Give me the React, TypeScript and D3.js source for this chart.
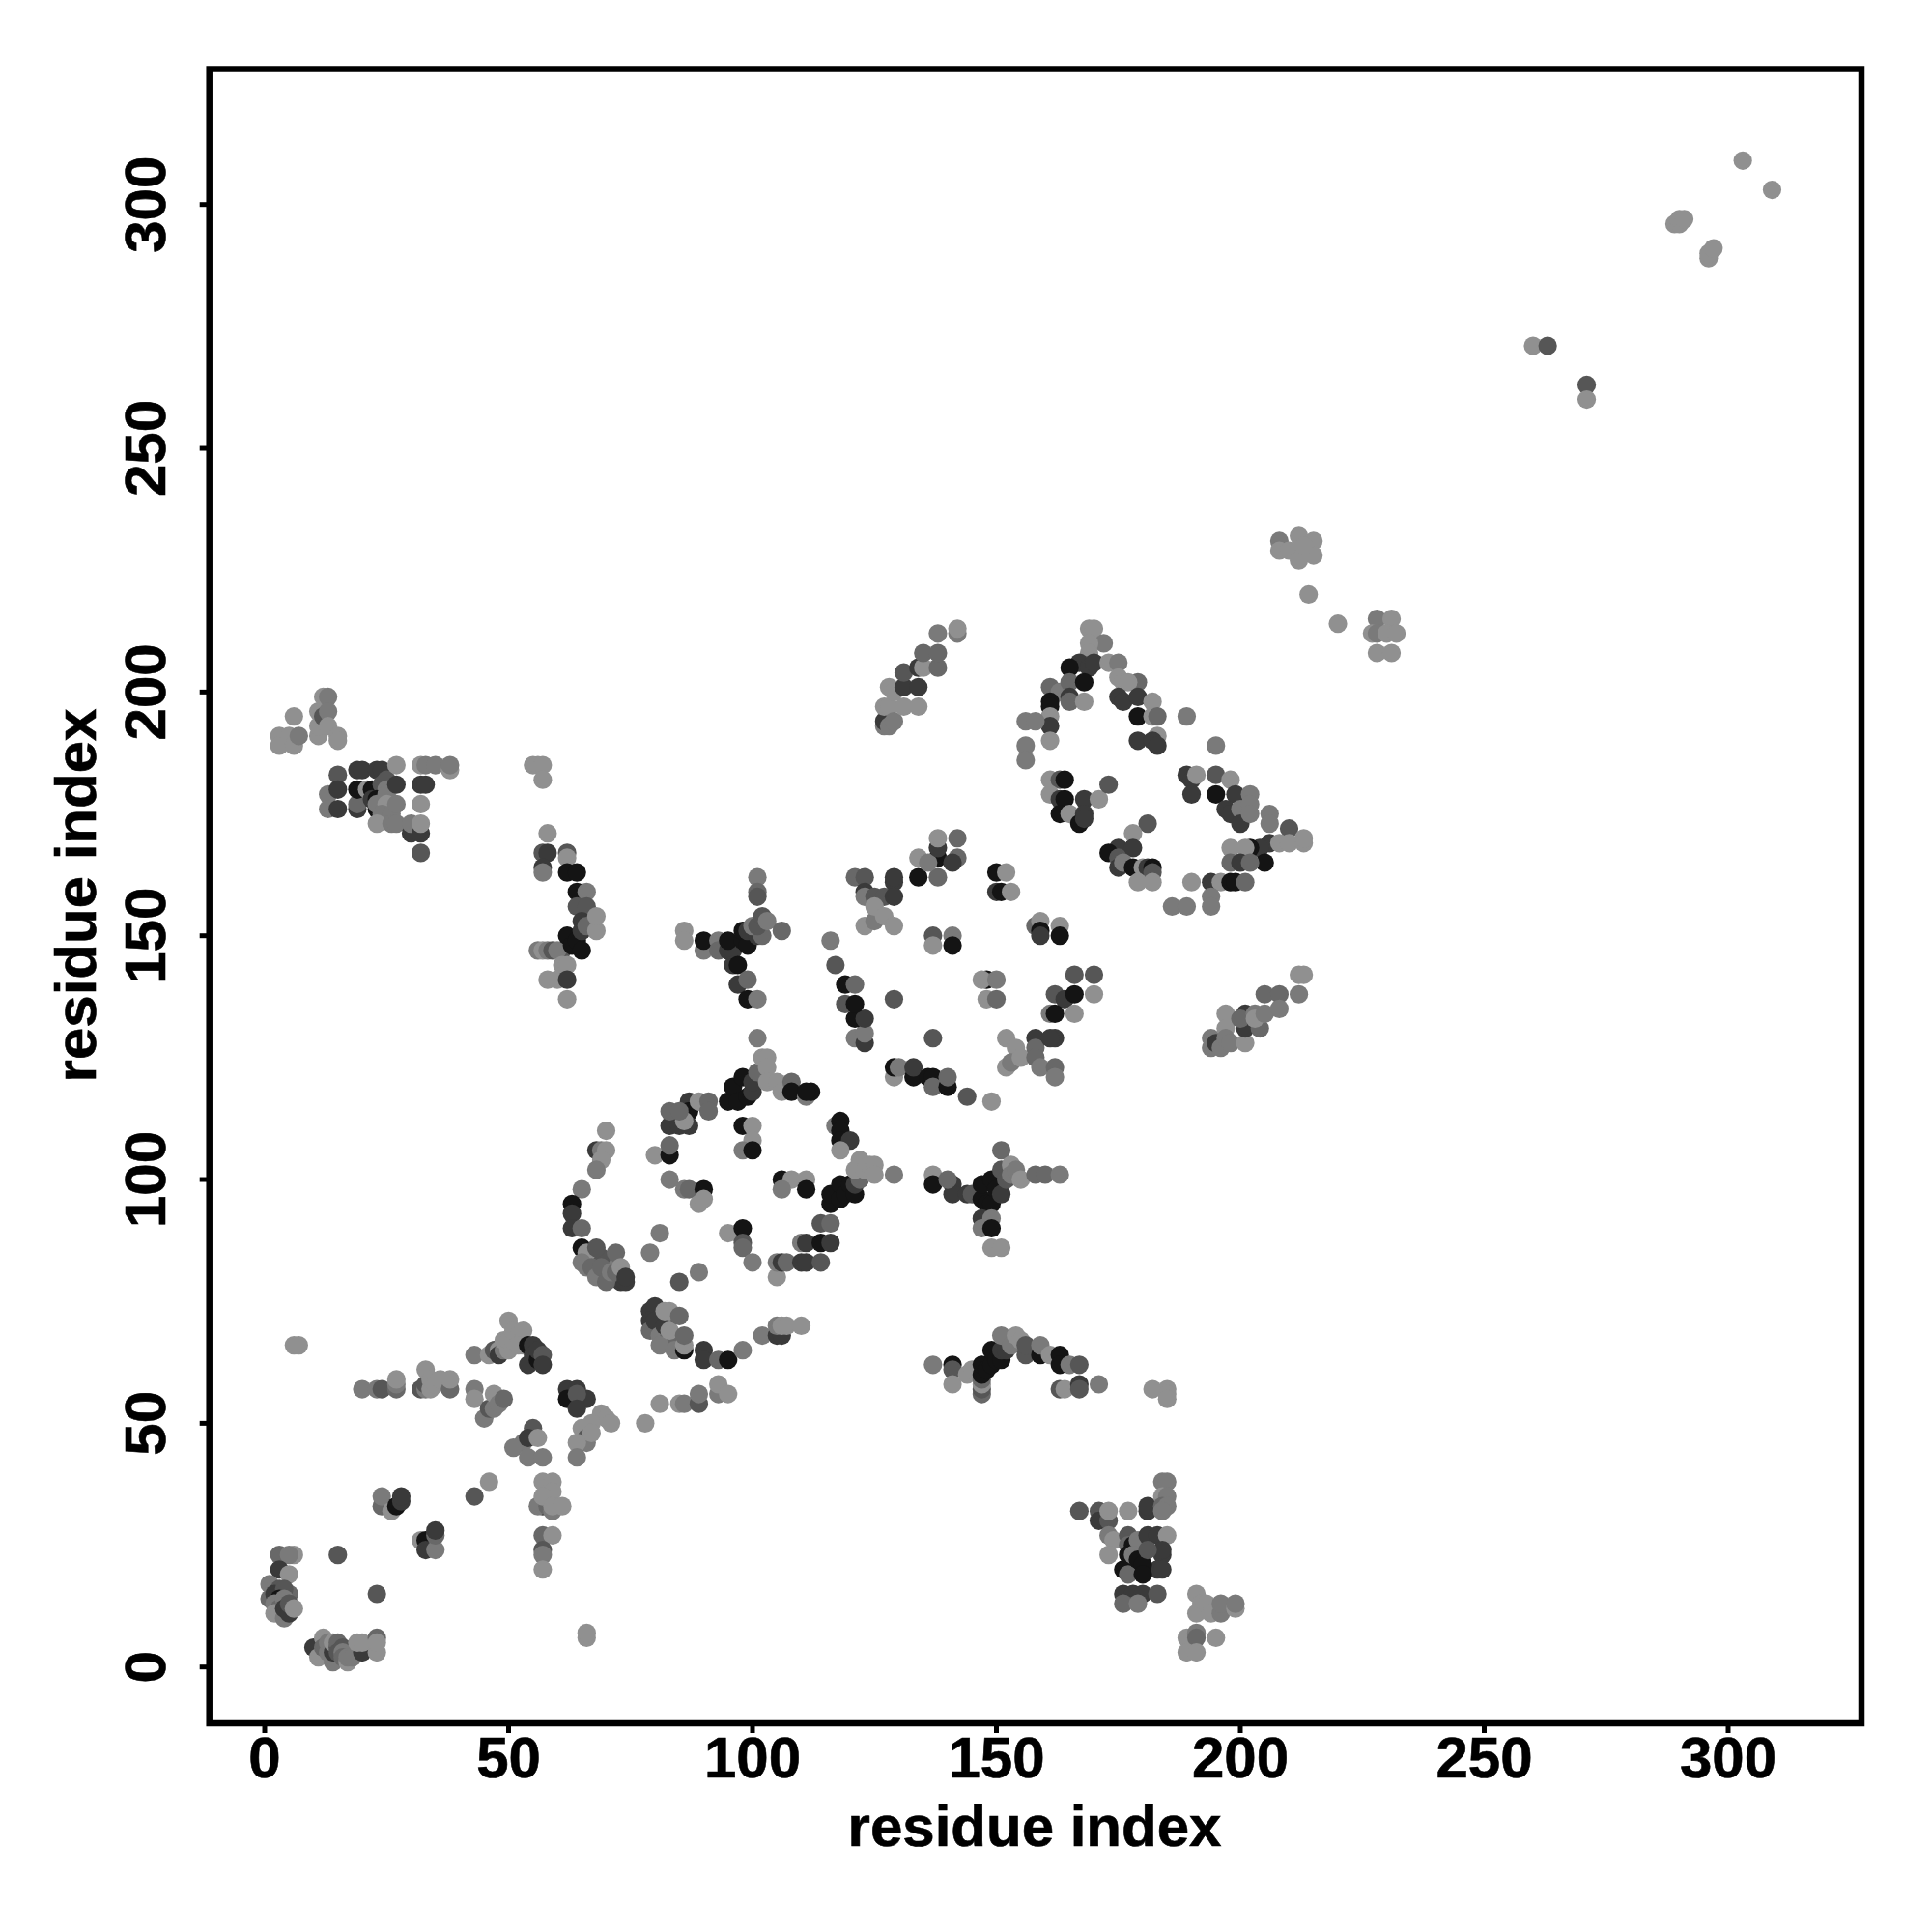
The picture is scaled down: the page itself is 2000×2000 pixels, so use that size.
import React from "react";
import * as d3 from "d3";

type P = [number, number, number];
const W = 144, L = 122, M = 104, D = 86, K = 58, B = 20;

const xTicks = [0, 50, 100, 150, 200, 250, 300];
const yTicks = [0, 50, 100, 150, 200, 250, 300];
const xLabel = "residue index";
const yLabel = "residue index";

const cornerA: P[] = [
  [3,23,M],[6,23,W],[5,23,L],[3,20,K],[5,19,W],[1,17,L],[1,14,M],[2,16,L],[3,16,D],[2,15,K],[5,15,M],[4,16,D],[3,14,B],[2,13,L],[3,12,M],[4,14,L],[2,11,W],[4,10,L],[4,12,K],[5,11,K],[5,13,D],[6,12,W],
  [15,23,D],[23,15,D],
  [11,4,L],[10,4,K],[12,6,W],[11,2,W],[12,4,M],[13,3,L],[13,5,L],[14,1,L],[14,3,K],[14,5,W],[15,4,D],[15,5,M],[15,3,D],[16,4,D],[16,3,L],[16,2,M],[17,1,W],[17,2,L],[18,2,L],[20,3,K],[19,5,W],[20,5,W],[23,3,W],[23,6,M],[23,5,W],
  [24,33,M],[24,35,L],[26,32,W],[27,33,B],[28,34,K],[28,35,K],
  [32,26,W],[33,26,B],[33,24,K],[35,24,L],[35,27,M],[35,28,K],
  [43,35,D],[46,38,W],[66,6,W],[66,7,W],[6,66,W],[7,66,W],
];
const rowB: P[] = [
  [20,57,L],[23,57,L],[24,57,D],[27,57,M],[27,58,L],[27,59,W],[32,57,D],[33,57,L],[33,58,D],[34,57,W],[33,61,W],[34,59,W],[35,58,W],[36,59,W],[38,57,M],[38,59,W],
  [43,64,L],[46,64,W],[47,65,D],[48,65,W],[48,64,K],[49,65,L],[49,67,W],[50,65,W],[50,67,W],[50,71,W],[51,67,W],[51,69,W],[52,68,W],[53,69,W],[53,66,W],[52,66,W],
  [54,66,B],[54,62,K],[55,66,K],[55,64,K],[56,63,B],[56,65,K],[57,64,D],[57,62,K],
  [43,57,L],[43,55,W],[45,51,L],[46,53,D],[47,53,L],[47,56,W],[48,54,L],[49,55,M],
  [55,49,D],[53,46,L],[51,45,L],[54,47,K],[56,47,W],[54,43,L],[57,43,L],
  [57,38,W],[59,38,W],[59,36,W],[57,33,K],[56,33,L],[58,33,M],[59,32,L],[57,35,W],[59,33,W],[61,33,W],
  [57,27,M],[59,27,W],[57,24,D],[57,23,L],[57,20,W],
  [62,57,K],[64,57,K],[62,55,B],[66,55,K],[64,56,D],[64,53,K],[69,52,W],[70,51,W],[71,50,W],[67,50,W],[65,49,W],[66,47,D],[66,46,L],[64,46,W],[64,43,L],[67,48,W],
];
const diagC: P[] = [
  [78,50,W],[81,54,W],[85,54,W],[86,54,L],[89,54,D],[89,56,L],[93,56,L],[93,58,W],[95,56,W],
  [79,73,K],[80,74,K],[79,71,K],[79,69,M],[80,71,K],[81,68,L],[82,70,K],[83,68,M],[81,66,L],[83,73,W],[82,73,W],[83,69,W],[84,65,L],[85,72,M],
  [86,65,B],[86,66,W],[86,68,M],[90,65,K],[90,63,K],[93,63,M],[95,63,B],[98,65,L],
  [102,68,L],[105,68,K],[106,68,K],[105,70,L],[106,70,W],[107,70,W],[110,70,W],
];
const ringD: P[] = [
  [66,84,L],[67,83,D],[68,83,M],[69,80,K],[70,80,L],[71,80,K],[72,80,D],[73,79,K],[68,81,M],[66,82,L],[70,83,L],[69,84,D],
  [65,98,L],[63,95,B],[63,93,K],[63,90,K],[65,90,M],[65,86,B],[66,85,W],[68,86,D],[65,83,L],[67,82,M],[68,80,L],[69,82,M],[70,79,M],[71,81,L],[72,85,M],[72,81,M],[74,79,K],[73,82,W],[74,80,K],
  [70,110,W],[68,106,K],[69,106,L],[70,106,W],[69,104,W],[68,102,L],
  [80,105,W],[83,105,B],[83,107,M],[83,111,K],[85,111,K],[83,114,M],[87,116,K],[87,114,B],[87,111,K],[86,112,W],[89,116,W],[91,116,M],[91,114,M],[85,114,M],
  [81,89,L],[79,85,L],[89,81,L],[85,79,D],
  [83,100,L],[86,98,L],[87,98,M],[90,98,B],[89,95,W],[90,96,W],
  [98,111,B],[100,111,W],[100,108,W],[98,106,L],[100,106,B],
  [106,100,B],[108,100,W],[111,100,W],[106,98,L],[111,98,B],
  [95,89,W],[97,89,W],[98,90,B],[98,87,D],[98,86,M],[100,83,L],
  [105,80,W],[105,83,L],[106,83,K],[107,83,M],[110,87,L],[111,87,K],[110,83,K],[111,83,K],[114,83,D],[114,87,B],[116,87,K],[114,91,D],[116,91,M],
  [95,116,B],[96,119,B],[97,116,B],[98,121,B],[99,117,B],[100,118,K],[100,120,K],[101,122,M],[102,125,W],[103,125,W],[103,123,W],[103,120,W],
  [105,120,W],[106,118,W],[108,120,M],[108,118,B],[111,117,L],[112,118,B],[111,118,B],
  [101,129,L],
  [117,111,L],[118,112,B],[118,110,B],[118,108,B],[120,108,K],[118,106,W],[129,101,L],
  [116,95,B],[116,97,B],[118,96,B],[118,99,B],[119,97,B],[120,99,B],[121,97,B],[121,99,K],[122,100,M],[121,102,W],[122,104,W],[123,102,W],[124,103,W],[125,103,W],[125,101,W],
];
const crossE: P[] = [
  [137,101,W],[137,99,B],[141,99,K],[141,97,K],[140,100,M],[144,97,K],[145,97,D],
  [147,96,B],[147,99,B],[148,95,B],[149,95,B],[149,100,B],[147,92,K],[149,92,L],[147,90,L],[149,90,B],[149,86,W],[151,86,W],
  [151,106,M],[150,98,B],[151,97,K],[151,102,D],[152,100,D],[153,103,W],[153,101,L],[154,102,L],[155,100,W],[158,101,M],[160,101,M],[163,101,L],
];
const diagF: P[] = [
  [121,129,L],[123,128,K],[123,130,L],[121,133,B],[123,133,K],[119,136,D],[121,136,B],[119,140,B],[121,140,M],[117,144,D],[116,149,L],
  [129,137,D],[137,129,D],
  [129,121,W],[129,123,B],[130,123,L],[133,121,B],[133,123,K],[136,121,B],[137,121,B],[137,119,M],[140,119,B],[140,121,M],[144,117,D],[149,116,W],
  [121,162,M],[123,162,D],[123,159,K],[123,158,L],[125,158,D],[127,158,D],[129,161,K],[129,162,K],[129,158,K],
  [123,152,W],[125,153,L],[125,156,W],[127,154,W],[129,152,W],
  [134,162,B],[134,166,W],[138,162,M],[138,166,B],[136,165,L],[138,168,K],[138,170,W],[142,170,M],[142,166,M],[141,165,K],
  [137,150,D],[141,150,L],[137,148,W],[141,148,B],
  [150,163,B],[152,163,W],[150,159,K],[151,159,B],[153,159,W],
  [158,152,M],[159,153,W],[159,151,B],[159,150,K],[163,152,W],[163,150,B],
  [148,141,B],[147,141,W],[150,141,L],[148,137,W],[150,137,M],
  [166,142,D],[170,142,D],[162,138,D],[164,137,K],[166,138,B],[170,138,W],[161,134,L],[162,134,B],[166,134,W],
  [152,129,W],[154,127,W],[152,123,W],[153,124,L],[155,125,W],[158,129,K],[158,127,M],[158,125,M],[159,123,L],[162,129,K],[161,129,K],[162,123,M],[162,121,L],
];
const stripG: P[] = [
  [194,127,L],[194,129,L],[195,128,K],[196,127,L],[197,134,W],[197,131,W],[197,129,L],[198,128,L],[201,128,W],[201,131,K],[201,134,K],[200,133,M],[204,131,M],[203,134,L],[203,133,W],[205,134,L],[205,138,M],[208,138,M],[208,135,L],[212,138,L],[212,142,W],[213,142,W],
];
const arcH: P[] = [
  [127,193,L],[127,194,K],[127,197,W],[128,193,L],[128,197,W],[129,194,L],[128,201,W],[129,200,W],
  [131,197,W],[134,197,W],[131,201,K],[134,201,K],[131,204,D],
  [134,205,K],[135,205,W],[135,208,M],[138,205,M],[138,208,M],[138,212,L],[142,212,L],[142,213,W],
];
const loopI: P[] = [
  [169,213,W],[170,213,W],[172,210,L],[169,210,W],[169,208,W],[167,206,K],[169,205,K],[170,206,K],[165,205,B],[173,206,W],[175,206,L],[175,203,W],[176,202,W],[179,202,M],[177,202,W],
  [161,201,M],[163,200,L],[165,202,M],[165,199,K],[168,202,B],[161,198,B],[161,197,B],[165,198,M],[168,198,W],[161,195,W],[161,193,K],[156,194,L],[158,194,L],[161,190,W],[156,189,L],[156,186,L],
  [175,199,K],[176,198,K],[179,199,K],[179,195,B],[182,198,W],[182,195,W],[183,195,M],[189,195,L],[179,190,K],[183,191,W],[182,190,K],[183,189,K],
  [195,189,L],
  [161,182,W],[163,182,D],[164,182,B],[161,179,W],[163,178,K],[164,178,B],[168,178,K],[171,178,W],[173,181,D],[163,175,B],[165,175,W],[168,175,K],[167,173,B],[168,174,K],
  [181,173,D],[178,171,W],[175,168,K],[173,167,B],[175,166,D],[178,168,K],[175,164,K],[176,165,L],[178,164,B],[180,164,W],[181,164,K],[182,164,B],[182,163,D],[179,161,W],[182,161,W],[190,161,W],
  [189,183,K],[190,182,K],[191,183,W],[190,179,K],[195,183,D],[195,179,B],[198,182,W],[199,179,K],[197,176,K],[198,175,K],[200,176,L],[200,173,K],[202,179,L],[202,177,L],[202,175,L],[206,175,L],[206,173,L],
  [210,172,D],[206,169,K],[204,168,K],[208,169,W],[210,169,W],[213,169,W],[213,170,W],[198,168,W],[202,168,B],[201,168,W],[205,165,B],[198,165,M],[200,165,K],[202,165,M],
  [194,161,K],[196,161,W],[198,161,B],[199,161,B],[201,161,M],[194,158,L],[194,156,L],[186,156,L],[189,156,L],
];
const farJ: P[] = [
  [208,231,L],[208,229,W],[210,229,W],[212,232,W],[212,227,W],[215,231,W],[215,228,W],[213,230,W],[214,220,W],[220,214,W],
  [228,215,L],[231,215,W],[227,212,W],[228,212,L],[230,212,W],[232,212,W],[228,208,W],[231,208,W],
  [260,271,W],[263,271,D],[271,263,D],[271,260,W],[289,296,W],[290,296,W],[290,297,W],[291,297,W],[296,289,W],[296,290,W],[297,291,W],[303,309,W],[309,303,W],
];
const topLeftK: P[] = [
  [3,191,W],[3,189,W],[5,191,W],[6,189,W],[6,195,W],[7,191,L],[11,191,W],[11,193,W],[11,196,W],[12,199,W],[13,199,L],[12,195,D],[13,196,L],[13,193,W],[15,191,W],[15,190,W],
  [15,183,D],[13,179,L],[13,176,L],[15,180,K],[15,176,K],[19,184,K],[19,176,K],[19,177,M],[19,180,B],[20,184,K],[21,180,W],[23,184,K],[24,184,K],[22,180,B],[22,178,K],[24,181,D],[25,182,D],[25,180,L],[23,178,B],[23,176,B],[23,177,L],[25,179,L],[25,177,W],[24,175,L],[26,175,L],
  [27,181,K],[27,185,W],[27,177,L],[23,173,W],[26,173,L],[27,173,L],
  [32,185,W],[33,185,L],[35,185,L],[38,184,W],[38,185,L],[32,181,K],[33,181,K],[32,177,W],[30,171,K],[30,173,L],[32,171,K],[32,173,W],[32,167,D],
];
const arcL: P[] = [
  [55,185,W],[56,185,W],[57,185,W],[57,182,W],[58,171,W],[57,167,D],[58,167,K],[57,164,K],[57,163,L],
  [61,147,D],[56,147,L],[57,147,W],[58,147,L],[59,147,D],[60,147,L],[61,144,W],[62,144,W],[58,141,W],[60,141,W],[62,141,K],[62,137,W],
  [62,167,D],[62,166,W],[62,163,B],[64,163,B],[64,159,B],[66,159,L],[64,156,D],[66,156,D],[65,153,K],
  [62,150,B],[63,148,B],[64,149,B],[65,151,K],[66,152,M],[65,147,B],[68,151,W],[68,154,W],
];
const crossM: P[] = [
  [101,162,L],[101,159,M],[101,158,D],[86,151,W],[86,149,W],[90,147,L],[90,149,B],[93,149,L],[93,147,M],[95,147,K],[96,147,K],[95,149,B],[98,149,B],[98,151,B],[99,148,B],[99,151,K],[101,150,K],[100,152,L],[102,150,M],[101,152,D],[102,154,D],[103,153,L],[106,151,M],
  [96,144,K],[97,144,B],[97,140,K],[99,141,M],[99,137,B],[101,137,L],
];
const arcN: P[] = [
  [137,62,L],[141,62,B],[141,61,D],[141,58,W],[144,60,W],[145,61,W],
  [147,56,M],[147,57,D],[147,58,W],[147,59,M],[147,60,B],[147,62,B],[148,61,B],[149,62,B],[149,65,B],[150,63,B],[151,63,B],[151,65,K],[152,65,K],[151,68,L],[153,66,L],[154,68,W],[155,67,W],
  [156,64,D],[156,66,D],[159,64,B],[159,66,L],[161,64,W],[163,64,B],[163,62,B],[165,62,L],[167,62,D],
  [163,57,D],[164,57,W],[167,58,K],[167,57,D],[171,58,L],[182,57,W],[185,57,W],[185,56,W],[185,55,W],
];
const blockO: P[] = [
  [167,32,D],[171,32,D],[171,30,K],[173,30,D],[173,32,W],[173,27,L],[174,26,W],[173,23,W],[177,32,W],[181,32,K],[181,33,K],
  [184,38,L],[185,38,L],[184,35,W],[185,35,L],[184,33,M],[185,33,L],[184,32,L],
  [177,27,D],[177,25,M],[178,25,B],[179,26,L],[181,27,K],[183,27,K],[185,27,W],[184,23,K],[184,24,K],[183,20,K],[184,20,K],
  [176,20,B],[177,23,B],[177,19,M],[178,23,L],[180,23,L],[179,22,B],[180,21,B],[181,24,D],[180,19,B],
  [176,15,K],[178,15,K],[180,15,K],[183,15,D],[176,13,M],[179,13,L],
  [191,15,W],[192,13,W],[191,11,W],[193,13,W],[194,11,W],[196,11,L],[196,13,L],[199,12,W],[199,13,L],
  [189,6,W],[191,7,L],[191,6,M],[195,6,W],[189,3,W],[191,3,W],
];

const groups: P[][] = [cornerA, rowB, diagC, ringD, crossE, diagF, stripG, arcH, loopI, farJ, topLeftK, arcL, crossM, arcN, blockO];

const xScale = d3.scaleLinear().domain([0, 300]).range([274, 1789]);
const yScale = d3.scaleLinear().domain([0, 300]).range([1725.7, 211.7]);
const font = "'Liberation Sans', Arial, sans-serif";
const box = { l: 216.7, r: 1927, t: 71.5, b: 1784 };

export default function App() {
  const gray = (g: number) => d3.rgb(g, g, g).formatHex();
  return (
    <svg width={2000} height={2000} style={{ position: "absolute", left: 0, top: 0, display: "block", background: "#fff" }} fontFamily={font} fontWeight="bold" fill="#000">
      <g>
        {groups.flat().map((p, i) => (
          <circle key={i} cx={xScale(p[0])} cy={yScale(p[1])} r={9.6} fill={gray(p[2])} />
        ))}
      </g>
      <rect x={box.l} y={box.t} width={box.r - box.l} height={box.b - box.t} fill="none" stroke="#000" strokeWidth={6.5} />
      {xTicks.map((t) => (
        <g key={t}>
          <line x1={xScale(t)} x2={xScale(t)} y1={box.b} y2={box.b + 10} stroke="#000" strokeWidth={5} />
          <text x={xScale(t)} y={1840} textAnchor="middle" fontSize={60} stroke="#000" strokeWidth={0.6}>{t}</text>
        </g>
      ))}
      {yTicks.map((t) => (
        <g key={t}>
          <line x1={box.l - 10} x2={box.l} y1={yScale(t)} y2={yScale(t)} stroke="#000" strokeWidth={5} />
          <text transform={`translate(171,${yScale(t)}) rotate(-90)`} textAnchor="middle" fontSize={60} stroke="#000" strokeWidth={0.6}>{t}</text>
        </g>
      ))}
      <text x={1071} y={1911} textAnchor="middle" fontSize={60} stroke="#000" strokeWidth={0.6}>{xLabel}</text>
      <text transform="translate(99,927) rotate(-90)" textAnchor="middle" fontSize={60} stroke="#000" strokeWidth={0.6}>{yLabel}</text>
    </svg>
  );
}
